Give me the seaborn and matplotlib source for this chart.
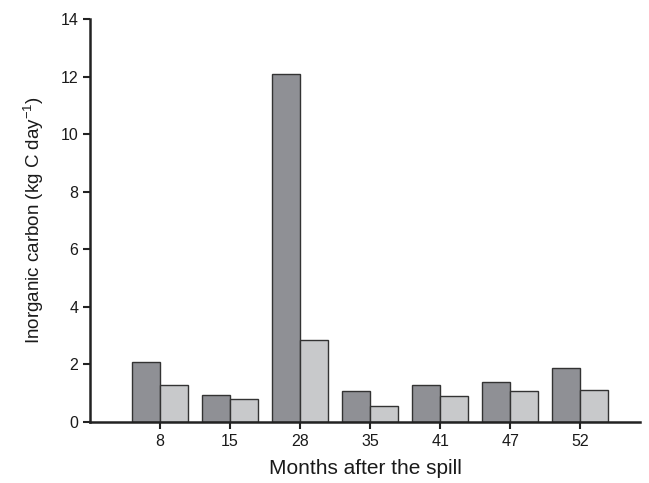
import pandas as pd
import seaborn as sns
import matplotlib
matplotlib.use("Agg")
import matplotlib.pyplot as plt

months = ["8", "15", "28", "35", "41", "47", "52"]
series_a = [2.07, 0.95, 12.09, 1.09, 1.27, 1.38, 1.88]
series_b = [1.30, 0.79, 2.86, 0.56, 0.89, 1.09, 1.10]

df = pd.DataFrame({
    "month": months * 2,
    "value": series_a + series_b,
    "group": ["A"] * len(months) + ["B"] * len(months),
})

sns.set_style("ticks")
plt.rcParams["font.family"] = ["Liberation Sans", "DejaVu Sans"]
plt.rcParams["mathtext.default"] = "regular"
plt.rcParams["text.color"] = "#1a1a1a"
plt.rcParams["axes.labelcolor"] = "#1a1a1a"
plt.rcParams["xtick.labelcolor"] = "#1a1a1a"
plt.rcParams["ytick.labelcolor"] = "#1a1a1a"

fig = plt.figure(figsize=(6.49, 4.83), dpi=100)
ax = fig.add_axes([0.1387, 0.1263, 0.8473, 0.8344])

sns.barplot(data=df, x="month", y="value", hue="group", order=months,
            palette={"A": "#8f9095", "B": "#c8c9cb"}, width=0.8,
            edgecolor="#333333", linewidth=1.0, saturation=1, ax=ax, legend=False)

ax.set_xlim(-1.0, 6.85)
ax.set_ylim(0, 14)
ax.set_yticks(range(0, 15, 2))
ax.set_xlabel("Months after the spill", fontsize=15, labelpad=7)
ax.set_ylabel("Inorganic carbon (kg C day$^{-1}$)", fontsize=13.5, labelpad=10)
ax.tick_params(axis="both", labelsize=11.5, length=5, width=1.5, color="#222222")
for s in ["left", "bottom"]:
    ax.spines[s].set_linewidth(1.8)
    ax.spines[s].set_color("#222222")
sns.despine(ax=ax)

fig.savefig("out.png", dpi=100)
